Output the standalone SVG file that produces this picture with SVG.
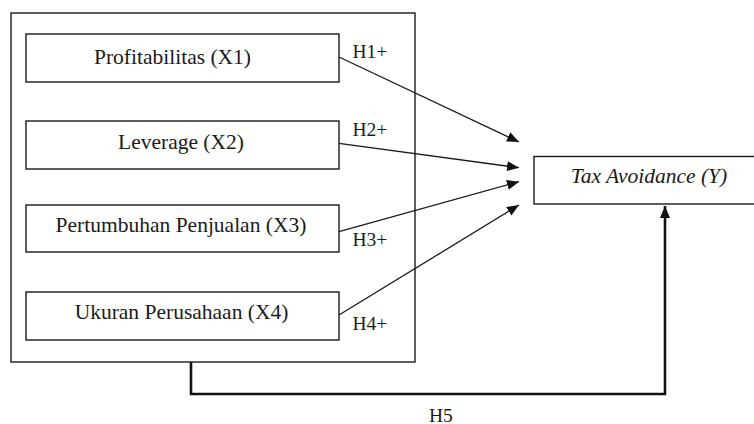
<svg xmlns="http://www.w3.org/2000/svg" width="754" height="424" viewBox="0 0 754 424">
  <style>
    .box { fill: #ffffff; stroke: #1a1a1a; stroke-width: 1.4; }
    .lbl { font-family: 'Liberation Serif', 'DejaVu Serif', serif; font-size: 21.5px; fill: #1a1a1a; }
    .h { font-family: 'Liberation Serif', 'DejaVu Serif', serif; font-size: 19.5px; fill: #1a1a1a; }
    .conn { fill: none; stroke: #1a1a1a; stroke-width: 1.3; }
    .thick { fill: none; stroke: #111111; stroke-width: 2.6; stroke-linejoin: miter; }
  </style>
  <defs>
    <marker id="arr" markerUnits="userSpaceOnUse" markerWidth="14" markerHeight="12" refX="12" refY="5" orient="auto">
      <path d="M0,0 L12,5 L0,10 Z" fill="#111111"/>
    </marker>
  </defs>
  <rect width="754" height="424" fill="#ffffff"/>

  <g id="group-x">
    <rect class="box" x="11" y="13" width="404" height="349"/>
  </g>

  <g id="x1">
    <rect class="box" x="26" y="34" width="313" height="48"/>
    <text class="lbl" font-family="Liberation Serif, serif" x="172.5" y="63.5" text-anchor="middle">Profitabilitas (X1)</text>
  </g>
  <g id="x2">
    <rect class="box" x="26" y="121" width="313" height="48"/>
    <text class="lbl" font-family="Liberation Serif, serif" x="181" y="149" text-anchor="middle">Leverage (X2)</text>
  </g>
  <g id="x3">
    <rect class="box" x="26" y="205" width="313" height="47"/>
    <text class="lbl" font-family="Liberation Serif, serif" x="181" y="231.5" text-anchor="middle">Pertumbuhan Penjualan (X3)</text>
  </g>
  <g id="x4">
    <rect class="box" x="26" y="292" width="313" height="48"/>
    <text class="lbl" font-family="Liberation Serif, serif" x="181.5" y="318.5" text-anchor="middle">Ukuran Perusahaan (X4)</text>
  </g>

  <g id="y">
    <rect class="box" x="534" y="156.5" width="230" height="47.5"/>
    <text class="lbl" font-family="Liberation Serif, serif" x="649" y="183" text-anchor="middle" font-style="italic">Tax Avoidance (Y)</text>
  </g>

  <g id="connectors">
    <line class="conn" x1="339" y1="57" x2="519" y2="142" marker-end="url(#arr)"/>
    <line class="conn" x1="339" y1="143.3" x2="519" y2="167.7" marker-end="url(#arr)"/>
    <line class="conn" x1="339" y1="231.7" x2="519" y2="181.7" marker-end="url(#arr)"/>
    <line class="conn" x1="339" y1="315" x2="519" y2="205" marker-end="url(#arr)"/>
    <path class="thick" d="M191,362 L191,394 L665,394 L665,206" marker-end="url(#arr)"/>
  </g>

  <g id="labels">
    <text class="h" font-family="Liberation Serif, serif" x="352.5" y="58">H1+</text>
    <text class="h" font-family="Liberation Serif, serif" x="352.5" y="136">H2+</text>
    <text class="h" font-family="Liberation Serif, serif" x="352.5" y="246">H3+</text>
    <text class="h" font-family="Liberation Serif, serif" x="352.5" y="330">H4+</text>
    <text class="h" font-family="Liberation Serif, serif" x="429" y="421.5">H5</text>
  </g>
</svg>
